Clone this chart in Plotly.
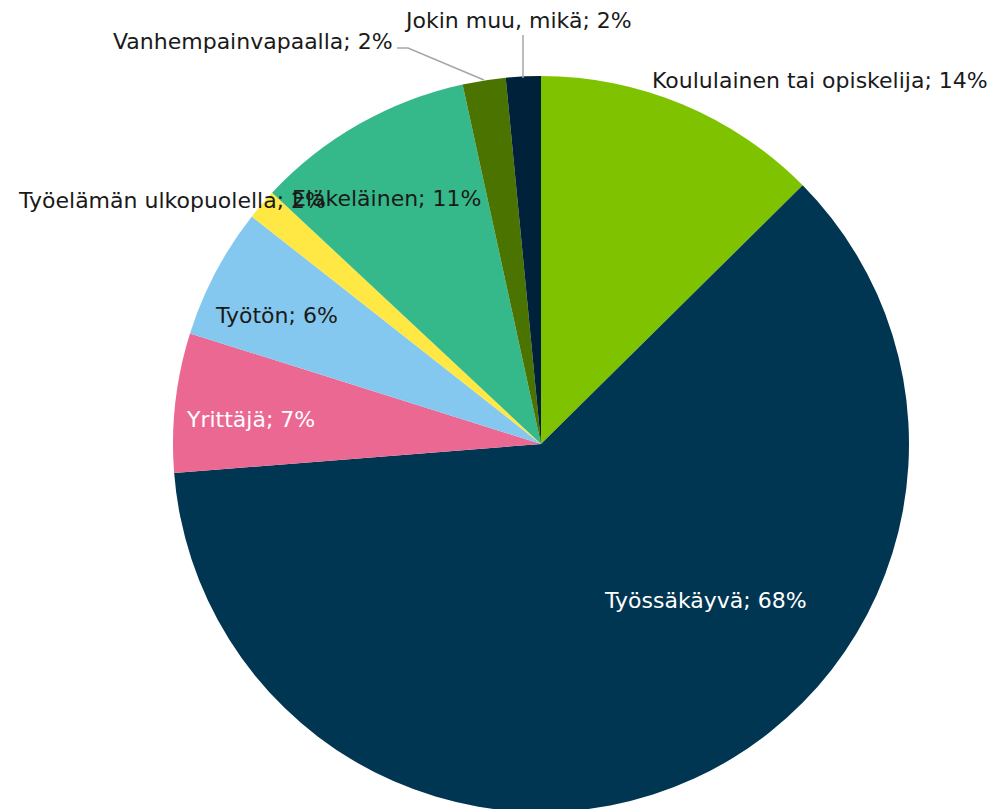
import plotly.graph_objects as go

# Data
categories = [
    "Koululainen tai opiskelija",
    "Työssäkäyvä",
    "Yrittäjä",
    "Työtön",
    "Työelämän ulkopuolella",
    "Eläkeläinen",
    "Vanhempainvapaalla",
    "Jokin muu, mikä",
]
values = [14.0, 68.0, 6.8, 6.4, 1.5, 10.7, 2.1, 1.7]
shown_pct = [14, 68, 7, 6, 2, 11, 2, 2]

colors = ["#7FC300", "#003651", "#EB6892", "#85C8EF",
          "#FFE843", "#36B98A", "#4A7300", "#00213A"]

W, H = 995, 809
OFF = 8  # page body margin in the browser
FONT = "DejaVu Sans, Verdana, sans-serif"
FS = 22

CX, CY, R = 541, 444, 368  # pie centre / radius in screen pixels


def px(x, y):
    """screen pixel -> paper coordinates"""
    return (x - OFF) / W, 1 - (y - OFF) / H


x0, y_top = px(CX - R, CY - R)
x1, y_bot = px(CX + R, CY + R)

fig = go.Figure(go.Pie(
    labels=categories,
    values=values,
    sort=False,
    direction="clockwise",
    rotation=0,
    marker=dict(colors=colors, line=dict(width=0)),
    textinfo="none",
    hoverinfo="label+percent",
    domain=dict(x=[x0, x1], y=[max(0, y_bot), y_top]),
    showlegend=False,
))

# label placement (center of text in pixels) and colour
label_pos = {
    "Koululainen tai opiskelija": (820, 81, "#1A1A1A"),
    "Työssäkäyvä": (705, 600, "#FFFFFF"),
    "Yrittäjä": (250, 419, "#FFFFFF"),
    "Työtön": (276, 315, "#1A1A1A"),
    "Työelämän ulkopuolella": (172, 201, "#1A1A1A"),
    "Eläkeläinen": (386, 199, "#1A1A1A"),
    "Vanhempainvapaalla": (253, 41, "#1A1A1A"),
    "Jokin muu, mikä": (518, 21, "#1A1A1A"),
}

annotations = []
for cat, pct in zip(categories, shown_pct):
    x, y, c = label_pos[cat]
    ax, ay = px(x, y)
    annotations.append(dict(
        x=ax, y=ay, xref="paper", yref="paper",
        text=f"{cat}; {pct}%", showarrow=False,
        xanchor="center", yanchor="middle",
        font=dict(family=FONT, size=FS, color=c),
    ))


def path(points):
    d = ""
    for i, (x, y) in enumerate(points):
        fx, fy = px(x, y)
        d += ("M" if i == 0 else "L") + f" {fx} {fy} "
    return d


shapes = [
    dict(type="path", xref="paper", yref="paper",
         path=path([(397, 48), (408, 48), (484, 80)]),
         line=dict(color="#A6A6A6", width=1.5)),
    dict(type="path", xref="paper", yref="paper",
         path=path([(523, 35), (523, 78)]),
         line=dict(color="#A6A6A6", width=1.5)),
]

fig.update_layout(
    width=W, height=H,
    margin=dict(l=0, r=0, t=0, b=0),
    paper_bgcolor="white", plot_bgcolor="white",
    annotations=annotations,
    shapes=shapes,
    font=dict(family=FONT, size=FS),
)

fig.write_html("out.html")
